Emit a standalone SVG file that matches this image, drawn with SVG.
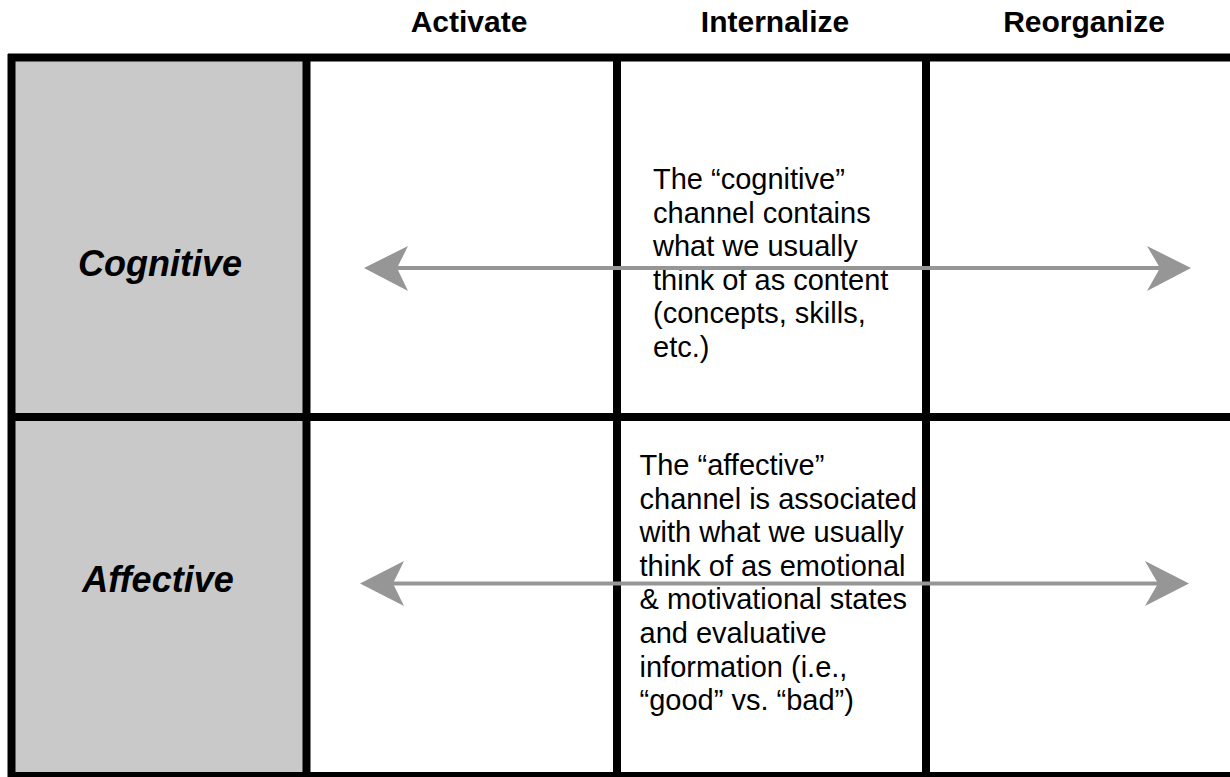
<svg xmlns="http://www.w3.org/2000/svg" width="1230" height="777" viewBox="0 0 1230 777">
<style>
.hdr{font-family:"Liberation Sans",Arial,sans-serif;font-weight:bold;font-size:30px;fill:#000;text-anchor:middle}
.row{font-family:"Liberation Sans",Arial,sans-serif;font-weight:bold;font-style:italic;font-size:36px;fill:#000;text-anchor:middle}
.body{font-family:"Liberation Sans",Arial,sans-serif;font-size:29px;fill:#000}
.grid{stroke:#000;stroke-width:8;fill:none}
.shaft{stroke:#969696;stroke-width:4;fill:none}
.head{fill:#969696}
</style>
<rect x="0" y="0" width="1230" height="777" fill="#fff"/>
<g id="headers">
<text class="hdr" x="469" y="32">Activate</text>
<text class="hdr" x="775" y="32">Internalize</text>
<text class="hdr" x="1084" y="32">Reorganize</text>
</g>
<g id="cognitive-label">
<rect x="15" y="61" width="288" height="352" fill="#c9c9c9"/>
<text class="row" x="160" y="276">Cognitive</text>
</g>
<g id="affective-label">
<rect x="15" y="421" width="288" height="351" fill="#c9c9c9"/>
<text class="row" x="158" y="592">Affective</text>
</g>
<g id="grid">
<line class="grid" x1="8" y1="57.5" x2="1230" y2="57.5" stroke-width="7"/>
<line class="grid" x1="8" y1="417" x2="1230" y2="417"/>
<line class="grid" x1="8" y1="776" x2="1230" y2="776"/>
<line class="grid" x1="11.5" y1="54" x2="11.5" y2="777" stroke-width="7"/>
<line class="grid" x1="306.5" y1="54" x2="306.5" y2="777" stroke-width="7"/>
<line class="grid" x1="617" y1="54" x2="617" y2="777"/>
<line class="grid" x1="926" y1="54" x2="926" y2="777"/>
</g>
<g id="cognitive-text">
<text class="body" x="653" y="189">
<tspan x="653">The “cognitive”</tspan>
<tspan x="653" dy="33.6">channel contains</tspan>
<tspan x="653" dy="33.6">what we usually</tspan>
<tspan x="653" dy="33.6">think of as content</tspan>
<tspan x="653" dy="33.6">(concepts, skills,</tspan>
<tspan x="653" dy="33.6">etc.)</tspan>
</text>
</g>
<g id="affective-text">
<text class="body" x="639.5" y="475">
<tspan x="639.5">The “affective”</tspan>
<tspan x="639.5" dy="33.6">channel is associated</tspan>
<tspan x="639.5" dy="33.6">with what we usually</tspan>
<tspan x="639.5" dy="33.6">think of as emotional</tspan>
<tspan x="639.5" dy="33.6">&amp; motivational states</tspan>
<tspan x="639.5" dy="33.6">and evaluative</tspan>
<tspan x="639.5" dy="33.6">information (i.e.,</tspan>
<tspan x="639.5" dy="33.6">“good” vs. “bad”)</tspan>
</text>
</g>
<g id="connectors">
<line class="shaft" x1="395" y1="268" x2="1162" y2="268"/>
<polygon class="head" points="364,268 408,246 397,268 408,291"/>
<polygon class="head" points="1191,268 1147,246 1160,268 1147,291"/>
<line class="shaft" x1="391" y1="583.5" x2="1160" y2="583.5"/>
<polygon class="head" points="360,583.5 404,561 393,583.5 404,606"/>
<polygon class="head" points="1189,583.5 1145,561 1158,583.5 1145,606"/>
</g>
</svg>
